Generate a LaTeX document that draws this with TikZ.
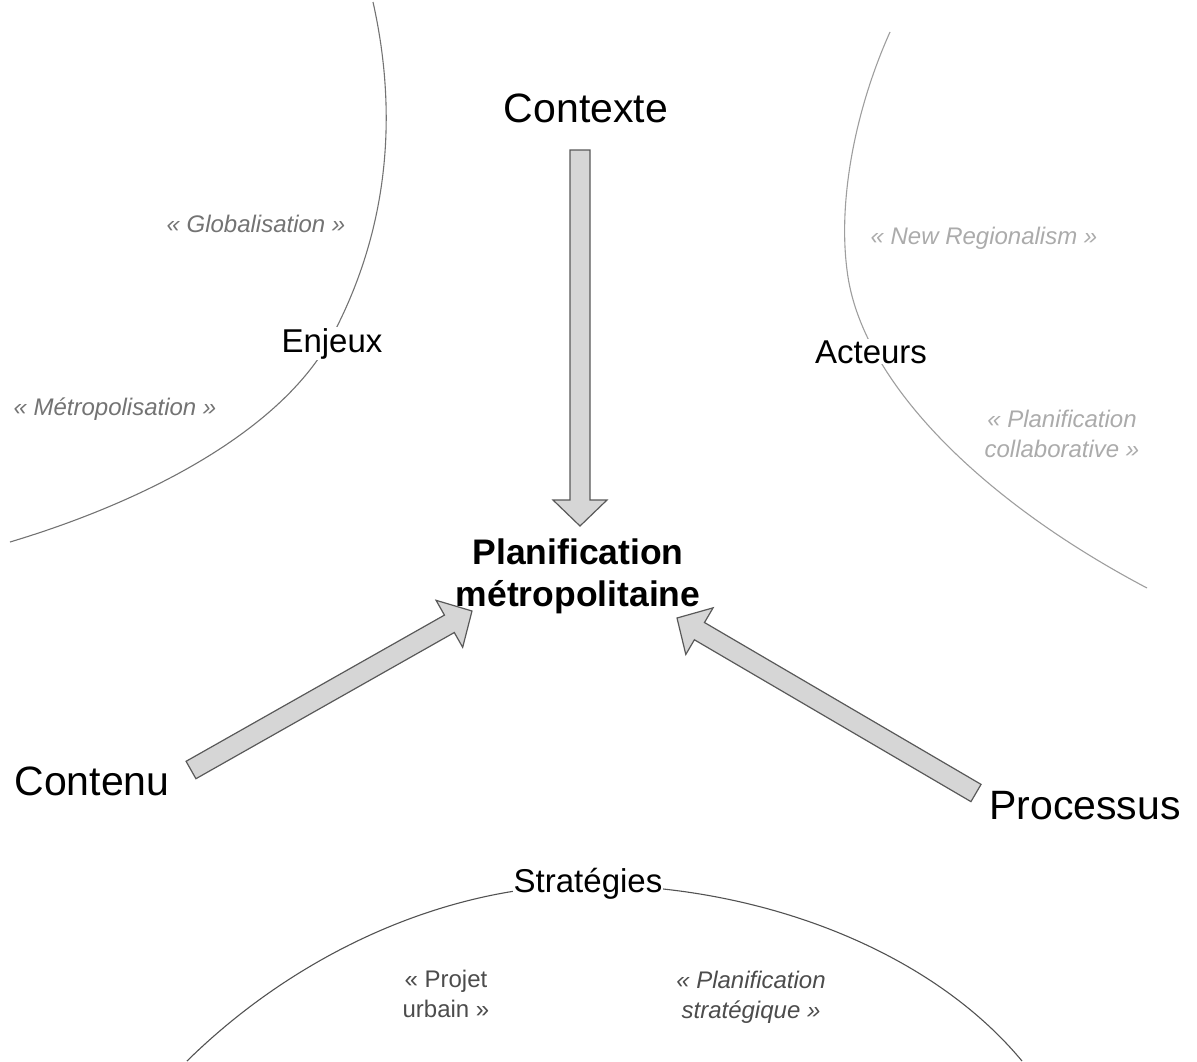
\documentclass[tikz,border=0pt]{standalone}
\usepackage{fontspec}
\setmainfont{Liberation Sans}
\usetikzlibrary{calc}

\begin{document}
\begin{tikzpicture}[x=1pt, y=-1pt,
    titre/.style={font=\fontsize{41}{46}\selectfont, anchor=base},
    axe/.style={font=\fontsize{33}{38}\selectfont, anchor=base, fill=white, inner sep=1pt},
    notion/.style={font=\fontsize{24}{30}\selectfont\itshape, align=center},
    fleche/.style={draw=black!65, fill=black!16, line width=1.2pt, line join=miter},
    courbe/.style={line width=1.1pt}
  ]
  \useasboundingbox (0,0) rectangle (1197,1061);

  % arcs
  \draw[courbe, draw=black!55] (373,2) .. controls (395,100) and (395,220) .. (330,340)
    .. controls (280,430) and (150,500) .. (10,542);
  \draw[courbe, draw=black!38] (890,32) .. controls (855,110) and (838,200) .. (847,270)
    .. controls (860,380) and (980,500) .. (1147,588);
  \draw[courbe, draw=black!68] (187,1061) .. controls (300,950) and (450,885) .. (590,885)
    .. controls (760,885) and (930,950) .. (1022,1061);

  % noeuds
  \node[titre] (contexte) at (586,122) {Contexte};
  \node[font=\fontsize{35.5}{42}\selectfont\bfseries, align=center] (plan) at (578,576) {Planification\\métropolitaine};
  \node[titre] (contenu) at (92,795) {Contenu};
  \node[titre] (processus) at (1085,819) {Processus};

  \node[axe] (enjeux) at (332,352) {Enjeux};
  \node[axe] (acteurs) at (871,363) {Acteurs};
  \node[axe] (strategies) at (588,892) {Stratégies};

  \node[notion, anchor=base, text=black!55] (globalisation) at (256,232) {« Globalisation »};
  \node[notion, anchor=base, text=black!55] (metropolisation) at (115,415) {« Métropolisation »};
  \node[notion, anchor=base, text=black!33] (regionalism) at (984,244) {« New Regionalism »};
  \node[notion, text=black!33] (collaborative) at (1062,434) {« Planification\\collaborative »};
  \node[notion, font=\fontsize{24}{30}\selectfont, text=black!70] (projet) at (446,994) {« Projet\\urbain »};
  \node[notion, text=black!70] (strategique) at (751,997) {« Planification\\stratégique »};

  % fleches
  \coordinate (ctxDep) at (580,150);
  \coordinate (ctxArr) at (580,526);
  \coordinate (cntDep) at (191,770);
  \coordinate (cntArr) at (472,611);
  \coordinate (prcDep) at (976,793);
  \coordinate (prcArr) at (677,618);
  \foreach \dep/\arr in {ctxDep/ctxArr, cntDep/cntArr, prcDep/prcArr}{
    \coordinate (h) at ($(\arr)!26pt!(\dep)$);
    \draw[fleche] ($(\dep)!10pt!90:(\arr)$) -- ($(h)!10pt!90:(\arr)$) -- ($(h)!27pt!90:(\arr)$)
      -- (\arr) -- ($(h)!27pt!-90:(\arr)$) -- ($(h)!10pt!-90:(\arr)$) -- ($(\dep)!10pt!-90:(\arr)$) -- cycle;
  }
\end{tikzpicture}
\end{document}
